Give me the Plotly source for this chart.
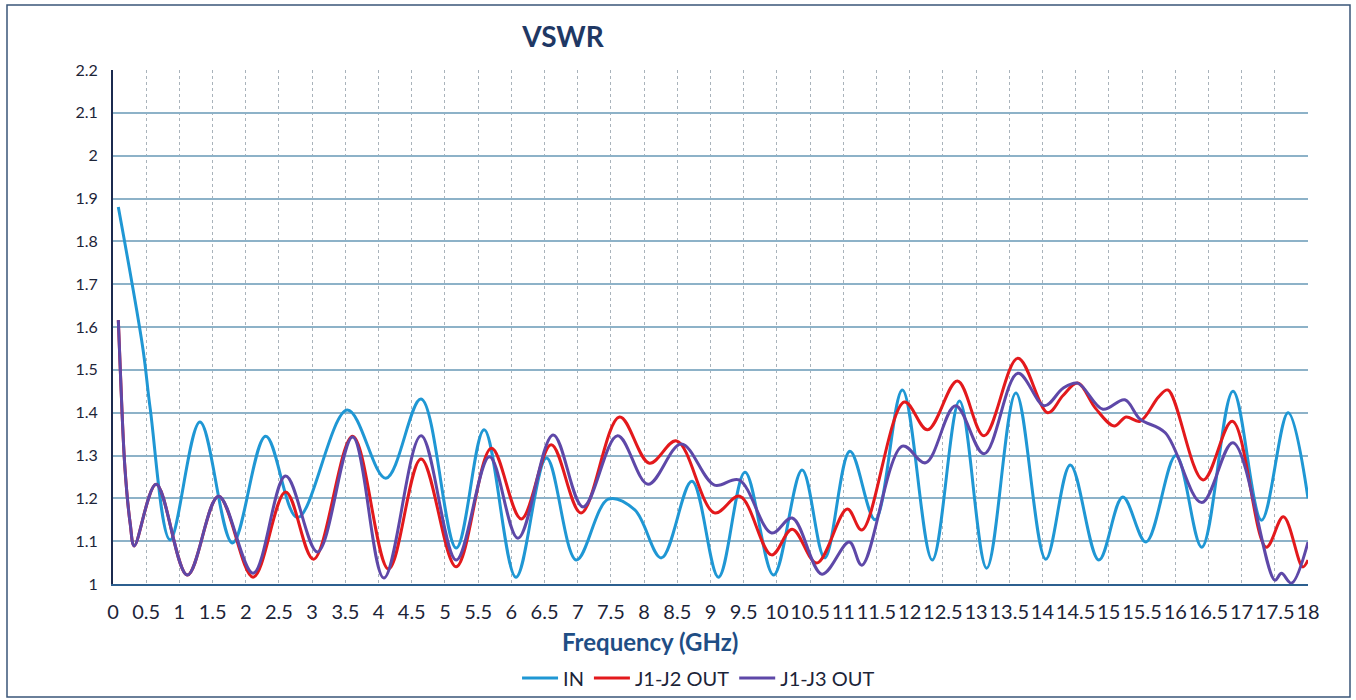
import plotly.graph_objects as go

# ---- data ----
freq_in = [0.08, 0.45, 0.56, 0.86, 1.31, 1.80, 2.30, 2.78, 3.53, 4.11, 4.64, 5.17, 5.59, 6.07,
           6.53, 6.98, 7.46, 7.86, 8.26, 8.72, 9.12, 9.52, 9.95, 10.38, 10.72, 11.10, 11.48,
           11.89, 12.34, 12.75, 13.16, 13.60, 14.05, 14.42, 14.85, 15.21, 15.56, 16.01, 16.40,
           16.87, 17.30, 17.70, 18.0]
vswr_in = [1.88, 1.55, 1.41, 1.103, 1.378, 1.096, 1.345, 1.155, 1.406, 1.247, 1.432, 1.084, 1.36,
           1.016, 1.294, 1.056, 1.198, 1.173, 1.061, 1.24, 1.016, 1.261, 1.021, 1.266, 1.061, 1.31,
           1.15, 1.453, 1.056, 1.427, 1.037, 1.446, 1.058, 1.278, 1.056, 1.203, 1.098, 1.30, 1.086,
           1.45, 1.149, 1.40, 1.20]

freq_j2 = [0.08, 0.11, 0.18, 0.26, 0.32, 0.65, 1.12, 1.59, 2.11, 2.60, 3.02, 3.61, 4.15, 4.64,
           5.17, 5.70, 6.15, 6.60, 7.05, 7.63, 8.08, 8.49, 9.06, 9.44, 9.92, 10.23, 10.60, 11.06,
           11.28, 11.92, 12.27, 12.72, 13.12, 13.63, 14.08, 14.31, 14.53, 14.80, 15.08, 15.26,
           15.47, 15.75, 15.89, 16.42, 16.86, 17.37, 17.63, 17.92, 18.0]
vswr_j2 = [1.616, 1.50, 1.27, 1.14, 1.089, 1.233, 1.021, 1.205, 1.016, 1.215, 1.058, 1.345, 1.035,
           1.292, 1.04, 1.317, 1.152, 1.325, 1.166, 1.39, 1.282, 1.334, 1.166, 1.205, 1.068, 1.128,
           1.049, 1.175, 1.126, 1.425, 1.36, 1.474, 1.346, 1.527, 1.40, 1.44, 1.469, 1.41, 1.369,
           1.39, 1.38, 1.437, 1.453, 1.243, 1.38, 1.086, 1.157, 1.04, 1.056]

freq_j3 = [0.08, 0.11, 0.18, 0.26, 0.32, 0.65, 1.12, 1.59, 2.11, 2.60, 3.08, 3.61, 4.08, 4.64,
           5.17, 5.67, 6.10, 6.63, 7.08, 7.60, 8.06, 8.56, 9.06, 9.43, 9.92, 10.23, 10.68, 11.09,
           11.28, 11.89, 12.24, 12.69, 13.12, 13.63, 14.03, 14.31, 14.53, 14.91, 15.24, 15.47,
           15.85, 16.40, 16.87, 17.50, 17.60, 17.75, 18.0]
vswr_j3 = [1.616, 1.50, 1.27, 1.14, 1.089, 1.233, 1.021, 1.205, 1.025, 1.252, 1.075, 1.343, 1.014,
           1.346, 1.056, 1.297, 1.107, 1.348, 1.18, 1.346, 1.233, 1.327, 1.231, 1.243, 1.119, 1.154,
           1.023, 1.098, 1.044, 1.322, 1.283, 1.416, 1.304, 1.492, 1.416, 1.457, 1.469, 1.408, 1.43,
           1.385, 1.353, 1.19, 1.33, 1.009, 1.025, 1.002, 1.098]

series_names = ["IN", "J1-J2 OUT", "J1-J3 OUT"]
series_colors = ["#1f97d4", "#e3191c", "#5e48a8"]

FONT = "Lato, 'Open Sans', sans-serif"
TEXT = "#1c2438"

fig = go.Figure()
for name, xs, ys, col in zip(series_names, [freq_in, freq_j2, freq_j3],
                             [vswr_in, vswr_j2, vswr_j3], series_colors):
    fig.add_trace(go.Scatter(x=xs, y=ys, name=name, mode="lines",
                             line=dict(color=col, width=3, shape="spline", smoothing=1.0)))

W, H = 1356, 700
L, R, T, B = 113, 1308, 70, 584


def px(xp):
    return (xp - L) / (R - L)


def py(yp):
    return (B - yp) / (B - T)


fig.update_layout(
    width=W, height=H,
    margin=dict(l=L, r=W - R, t=T, b=H - B, autoexpand=False),
    paper_bgcolor="white", plot_bgcolor="white",
    font=dict(family=FONT, color=TEXT, size=16),
    title=dict(text="<b>VSWR</b>", x=563 / W, xanchor="center", y=1 - 37 / H, yanchor="middle",
               font=dict(size=28, color="#1f3864", family=FONT)),
    showlegend=True,
    legend=dict(orientation="h", x=0.49, xanchor="center", y=py(678), yanchor="middle",
                font=dict(size=20, color=TEXT), bgcolor="rgba(0,0,0,0)", itemwidth=36,
                traceorder="normal"),
    xaxis=dict(range=[0, 18], dtick=0.5, tick0=0, tickangle=0, showgrid=True, automargin=False,
               gridcolor="#a9b3bb", griddash="dot", gridwidth=1,
               showline=True, linecolor="#2c5f8f", linewidth=2, zeroline=False,
               ticks="", tickfont=dict(size=20, color=TEXT), ticklabelstandoff=9),
    yaxis=dict(range=[1, 2.2], dtick=0.1, tick0=1, showgrid=True, automargin=False,
               gridcolor="#8db2c8", gridwidth=1.5,
               showline=True, linecolor="#1b2a4f", linewidth=2, zeroline=False,
               ticks="", tickfont=dict(size=16, color=TEXT), ticklabelstandoff=10),
)

fig.add_annotation(text="<b>Frequency (GHz)</b>", xref="paper", yref="paper",
                   x=px(650), y=py(641), xanchor="center", yanchor="middle", showarrow=False,
                   font=dict(size=24, color="#1f4e85", family=FONT))

fig.add_shape(type="rect", xref="paper", yref="paper",
              x0=px(7), x1=px(1350), y0=py(697), y1=py(5),
              line=dict(color="#3a5578", width=1.5), layer="below")

fig.write_html("out.html", config={"displayModeBar": False},
               post_script="document.body.style.margin='0';document.body.style.overflow='hidden';")
